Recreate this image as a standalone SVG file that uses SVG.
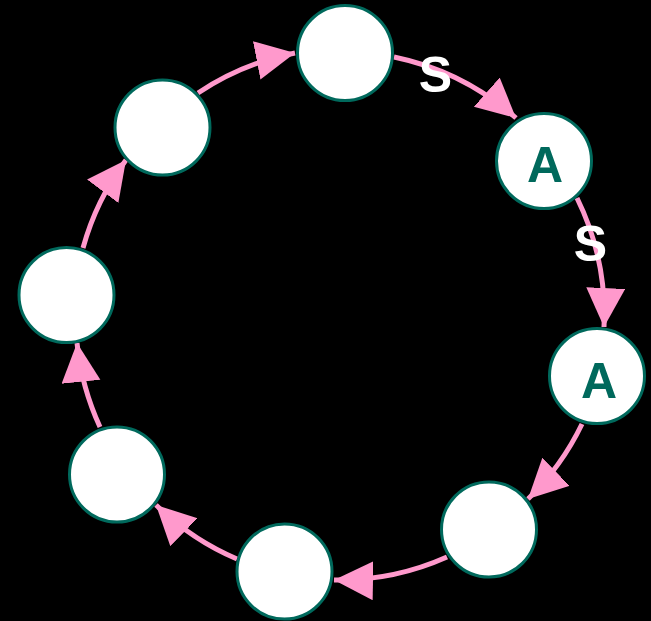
<svg xmlns="http://www.w3.org/2000/svg" width="651" height="621" viewBox="0 0 651 621">
<style>
.node{fill:#ffffff;stroke:#00695c;stroke-width:3}
.edge{fill:none;stroke:#ff99cc;stroke-width:5}
.lbl{font-family:"Liberation Sans",Arial,sans-serif;font-weight:bold;font-size:50px;text-anchor:middle}
.a{fill:#00695c}
.s{fill:#ffffff}
</style>
<defs>
<marker id="arr" markerUnits="userSpaceOnUse" markerWidth="40" markerHeight="40" viewBox="0 0 40 40" refX="39" refY="19.5" orient="auto">
<path d="M0,0 L39,19.5 L0,39 z" fill="#ff99cc"/>
</marker>
</defs>
<rect x="0" y="0" width="651" height="621" fill="#000000"/>
<g id="edges">
<path class="edge" marker-end="url(#arr)" d="M394,57 A265,265 0 0 1 516,118"/>
<path class="edge" marker-end="url(#arr)" d="M577,198 A265,265 0 0 1 604,327"/>
<path class="edge" marker-end="url(#arr)" d="M582,424 A265,265 0 0 1 528,499"/>
<path class="edge" marker-end="url(#arr)" d="M447,557 A265,265 0 0 1 334,580"/>
<path class="edge" marker-end="url(#arr)" d="M237,559 A265,265 0 0 1 156,505"/>
<path class="edge" marker-end="url(#arr)" d="M100,427 A265,265 0 0 1 77,343"/>
<path class="edge" marker-end="url(#arr)" d="M83,248 A265,265 0 0 1 126,160"/>
<path class="edge" marker-end="url(#arr)" d="M198,93 A265,265 0 0 1 295,53"/>
</g>
<g id="edge-labels">
<text class="lbl s" x="435.5" y="92">S</text>
<text class="lbl s" x="590.5" y="261">S</text>
</g>
<g id="n1"><circle class="node" cx="345" cy="53" r="47.5"/></g>
<g id="n2"><circle class="node" cx="544" cy="161" r="47.5"/><text class="lbl a" x="545" y="181.5">A</text></g>
<g id="n3"><circle class="node" cx="597" cy="376" r="47.5"/><text class="lbl a" x="599" y="397.5">A</text></g>
<g id="n4"><circle class="node" cx="489" cy="529.5" r="47.5"/></g>
<g id="n5"><circle class="node" cx="284.5" cy="571.5" r="47.5"/></g>
<g id="n6"><circle class="node" cx="117" cy="474.5" r="47.5"/></g>
<g id="n7"><circle class="node" cx="66.5" cy="295" r="47.5"/></g>
<g id="n8"><circle class="node" cx="162.5" cy="127.5" r="47.5"/></g>
</svg>
